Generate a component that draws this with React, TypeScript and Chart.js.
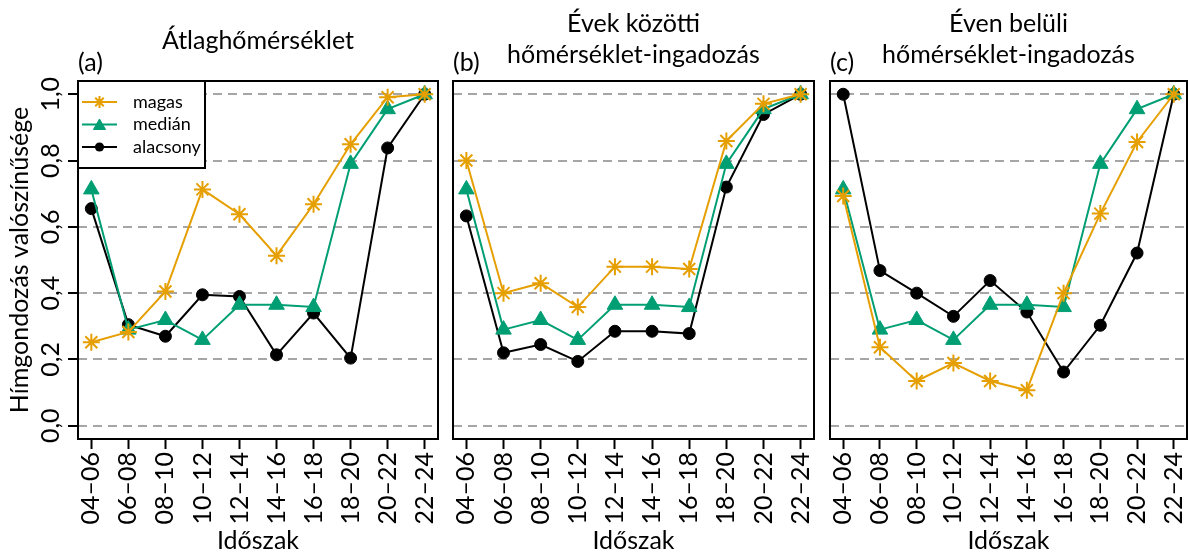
import React, { useEffect, useRef } from 'react';
import { Chart, registerables } from 'chart.js';

Chart.register(...registerables);

// Categories and tick labels
const periods = ['04–06', '06–08', '08–10', '10–12', '12–14', '14–16', '16–18', '18–20', '20–22', '22–24'];
const yTickValues = [0, 0.2, 0.4, 0.6, 0.8, 1.0];
const yTickLabels = ['0,0', '0,2', '0,4', '0,6', '0,8', '1,0'];
const seriesNames = ['magas', 'medián', 'alacsony'];

// (a) Átlaghőmérséklet
const meanHigh = [0.252, 0.283, 0.405, 0.713, 0.638, 0.513, 0.668, 0.849, 0.991, 1.0];
const meanMedian = [0.713, 0.29, 0.319, 0.259, 0.365, 0.365, 0.358, 0.79, 0.955, 1.0];
const meanLow = [0.655, 0.305, 0.27, 0.395, 0.39, 0.214, 0.34, 0.204, 0.838, 1.0];

// (b) Évek közötti hőmérséklet-ingadozás
const interHigh = [0.8, 0.4, 0.43, 0.358, 0.48, 0.48, 0.473, 0.859, 0.971, 1.0];
const interMedian = [0.713, 0.29, 0.319, 0.259, 0.365, 0.365, 0.358, 0.79, 0.955, 1.0];
const interLow = [0.633, 0.22, 0.245, 0.194, 0.285, 0.285, 0.278, 0.72, 0.939, 1.0];

// (c) Éven belüli hőmérséklet-ingadozás
const intraHigh = [0.693, 0.237, 0.135, 0.189, 0.135, 0.107, 0.4, 0.64, 0.856, 1.0];
const intraMedian = [0.713, 0.29, 0.319, 0.259, 0.365, 0.365, 0.358, 0.79, 0.955, 1.0];
const intraLow = [1.0, 0.468, 0.4, 0.33, 0.438, 0.343, 0.162, 0.303, 0.521, 1.0];

const FONT = 'Lato, "Open Sans", sans-serif';
const ORANGE = '#E69F00';
const GREEN = '#009E73';
const BLACK = '#000000';

const seriesStyles = [
  { color: ORANGE, pointStyle: 'star', radius: 8.5, pointBorderWidth: 2 },
  { color: GREEN, pointStyle: 'triangle', radius: 9, pointBorderWidth: 1 },
  { color: BLACK, pointStyle: 'circle', radius: 6, pointBorderWidth: 1 },
];

type PanelSpec = {
  tag: string;
  title: string[];
  high: number[];
  median: number[];
  low: number[];
  canvasLeft: number;
  canvasWidth: number;
  padLeft: number;
  padRight: number;
  showY: boolean;
  showLegend: boolean;
};

const panels: PanelSpec[] = [
  { tag: '(a)', title: ['Átlaghőmérséklet'], high: meanHigh, median: meanMedian, low: meanLow,
    canvasLeft: 0, canvasWidth: 441, padLeft: 0, padRight: 3, showY: true, showLegend: true },
  { tag: '(b)', title: ['Évek közötti', 'hőmérséklet-ingadozás'], high: interHigh, median: interMedian, low: interLow,
    canvasLeft: 450, canvasWidth: 367, padLeft: 3, padRight: 3, showY: false, showLegend: false },
  { tag: '(c)', title: ['Éven belüli', 'hőmérséklet-ingadozás'], high: intraHigh, median: intraMedian, low: intraLow,
    canvasLeft: 827, canvasWidth: 361, padLeft: 3, padRight: 1, showY: false, showLegend: false },
];

const CANVAS_H = 553;
const PLOT_TOP = 81;
const X_AXIS_H = 114;
const Y_AXIS_W = 78;
const TEXT_SIZE = 25;
const TICK_SIZE = 25;

function drawMarker(ctx: CanvasRenderingContext2D, kind: string, x: number, y: number, r: number, color: string) {
  ctx.save();
  ctx.strokeStyle = color;
  ctx.fillStyle = color;
  ctx.beginPath();
  if (kind === 'star') {
    const d = r * Math.SQRT1_2;
    ctx.lineWidth = 2;
    ctx.moveTo(x - r, y); ctx.lineTo(x + r, y);
    ctx.moveTo(x, y - r); ctx.lineTo(x, y + r);
    ctx.moveTo(x - d, y - d); ctx.lineTo(x + d, y + d);
    ctx.moveTo(x - d, y + d); ctx.lineTo(x + d, y - d);
    ctx.stroke();
  } else if (kind === 'triangle') {
    ctx.lineWidth = 1;
    ctx.moveTo(x, y - r);
    ctx.lineTo(x + r * 0.866, y + r * 0.5);
    ctx.lineTo(x - r * 0.866, y + r * 0.5);
    ctx.closePath();
    ctx.fill();
    ctx.stroke();
  } else {
    ctx.arc(x, y, r, 0, Math.PI * 2);
    ctx.fill();
  }
  ctx.restore();
}

// Black box around the plotting region
const framePlugin = {
  id: 'frame',
  afterDatasetsDraw(chart: any) {
    const { ctx, chartArea: a } = chart;
    ctx.save();
    ctx.strokeStyle = '#000';
    ctx.lineWidth = 2;
    ctx.strokeRect(a.left, a.top, a.right - a.left, a.bottom - a.top);
    ctx.restore();
  },
};

// Boxed legend in the top-left corner of the plotting region
const boxLegendPlugin = {
  id: 'boxLegend',
  afterDraw(chart: any) {
    const { ctx, chartArea: a } = chart;
    const w = 127;
    const h = 87;
    ctx.save();
    ctx.fillStyle = '#fff';
    ctx.fillRect(a.left, a.top, w, h);
    ctx.strokeStyle = '#000';
    ctx.lineWidth = 2;
    ctx.strokeRect(a.left, a.top, w, h);
    const rows = [21, 43.5, 66];
    const markerR = [6, 7, 4.6];
    seriesNames.forEach((name, k) => {
      const st = seriesStyles[k];
      const y = a.top + rows[k];
      ctx.strokeStyle = st.color;
      ctx.lineWidth = 2;
      ctx.beginPath();
      ctx.moveTo(a.left + 4, y);
      ctx.lineTo(a.left + 39, y);
      ctx.stroke();
      drawMarker(ctx, st.pointStyle, a.left + 21.5, st.pointStyle === 'triangle' ? y + 1.5 : y, markerR[k], st.color);
      ctx.fillStyle = '#000';
      ctx.font = `18px ${FONT}`;
      ctx.textBaseline = 'middle';
      ctx.textAlign = 'left';
      ctx.fillText(name, a.left + 55, y);
    });
    ctx.restore();
  },
};

function Panel({ spec }: { spec: PanelSpec }) {
  const ref = useRef<HTMLCanvasElement | null>(null);

  useEffect(() => {
    if (!ref.current) return;
    const seriesValues = [spec.high, spec.median, spec.low];
    const chart = new Chart(ref.current, {
      type: 'line',
      data: {
        datasets: seriesValues.map((vals, k) => {
          const st = seriesStyles[k];
          return {
            label: seriesNames[k],
            data: vals.map((v, i) => ({ x: i, y: v })),
            borderColor: st.color,
            backgroundColor: st.color,
            borderWidth: 2,
            pointStyle: st.pointStyle as any,
            pointRadius: st.radius,
            pointHoverRadius: st.radius,
            pointBorderWidth: st.pointBorderWidth,
            pointBackgroundColor: st.color,
            pointBorderColor: st.color,
            tension: 0,
            clip: false as any,
          };
        }),
      },
      options: {
        animation: false,
        responsive: false,
        devicePixelRatio: 1,
        layout: { autoPadding: false, padding: { top: PLOT_TOP, left: spec.padLeft, right: spec.padRight, bottom: 0 } },
        plugins: { legend: { display: false }, tooltip: { enabled: false }, title: { display: false } },
        scales: {
          x: {
            type: 'linear',
            min: -0.36,
            max: 9.36,
            afterBuildTicks: (s: any) => { s.ticks = periods.map((_, i) => ({ value: i })); },
            afterFit: (s: any) => { s.height = X_AXIS_H; s.paddingLeft = 0; s.paddingRight = 0; },
            ticks: {
              autoSkip: false,
              minRotation: 90,
              maxRotation: 90,
              padding: 3,
              color: '#000',
              font: { family: FONT, size: TICK_SIZE },
              callback: (_v: any, i: number) => periods[i],
            },
            grid: { display: true, drawOnChartArea: false, drawTicks: true, tickLength: 10, tickWidth: 2, tickColor: '#000' },
            border: { display: false },
            title: { display: true, text: 'Időszak', color: '#000', font: { family: FONT, size: TEXT_SIZE, lineHeight: 1 }, padding: { top: 0, bottom: 0 } },
          },
          y: {
            type: 'linear',
            min: -0.04,
            max: 1.04,
            afterBuildTicks: (s: any) => { s.ticks = yTickValues.map((v) => ({ value: v })); },
            afterFit: (s: any) => { s.width = spec.showY ? Y_AXIS_W : 0; s.paddingTop = 0; s.paddingBottom = 0; },
            ticks: {
              display: spec.showY,
              minRotation: 90,
              maxRotation: 90,
              crossAlign: 'center',
              padding: 0,
              color: '#000',
              font: { family: FONT, size: TICK_SIZE },
              callback: (_v: any, i: number) => yTickLabels[i],
            },
            grid: {
              color: '#a6a6a6',
              lineWidth: 2,
              drawTicks: spec.showY,
              tickLength: 10,
              tickWidth: 2,
              tickColor: '#000',
              tickBorderDash: [],
            },
            border: { display: false, dash: [9, 6] },
            title: {
              display: spec.showY,
              text: 'Hímgondozás valószínűsége',
              color: '#000',
              font: { family: FONT, size: TEXT_SIZE, lineHeight: 1 },
              padding: { top: 7, bottom: 0 },
            },
          },
        },
      } as any,
      plugins: spec.showLegend ? [framePlugin, boxLegendPlugin] : [framePlugin],
    });
    return () => chart.destroy();
  }, [spec]);

  return (
    <canvas
      ref={ref}
      width={spec.canvasWidth}
      height={CANVAS_H}
      style={{ position: 'absolute', left: spec.canvasLeft, top: 0, width: spec.canvasWidth, height: CANVAS_H }}
    />
  );
}

function PanelHeading({ spec }: { spec: PanelSpec }) {
  const plotLeft = spec.canvasLeft + spec.padLeft + (spec.showY ? Y_AXIS_W : 0);
  const plotWidth = spec.canvasWidth - spec.padLeft - spec.padRight - (spec.showY ? Y_AXIS_W : 0);
  const twoLines = spec.title.length > 1;
  return (
    <>
      <div
        style={{
          position: 'absolute',
          left: plotLeft,
          width: plotWidth,
          top: twoLines ? 7 : 24,
          textAlign: 'center',
          fontSize: TEXT_SIZE,
          lineHeight: '31px',
          whiteSpace: 'nowrap',
        }}
      >
        {spec.title.map((t) => (
          <div key={t}>{t}</div>
        ))}
      </div>
      <div style={{ position: 'absolute', left: plotLeft, top: 46, fontSize: TEXT_SIZE, lineHeight: '30px' }}>{spec.tag}</div>
    </>
  );
}

export default function App() {
  return (
    <div
      style={{
        position: 'absolute',
        left: 0,
        top: 0,
        width: 1188,
        height: 553,
        background: '#fff',
        fontFamily: FONT,
        color: '#000',
        overflow: 'hidden',
      }}
    >
      {panels.map((p) => (
        <Panel key={p.tag} spec={p} />
      ))}
      {panels.map((p) => (
        <PanelHeading key={'h' + p.tag} spec={p} />
      ))}
    </div>
  );
}
